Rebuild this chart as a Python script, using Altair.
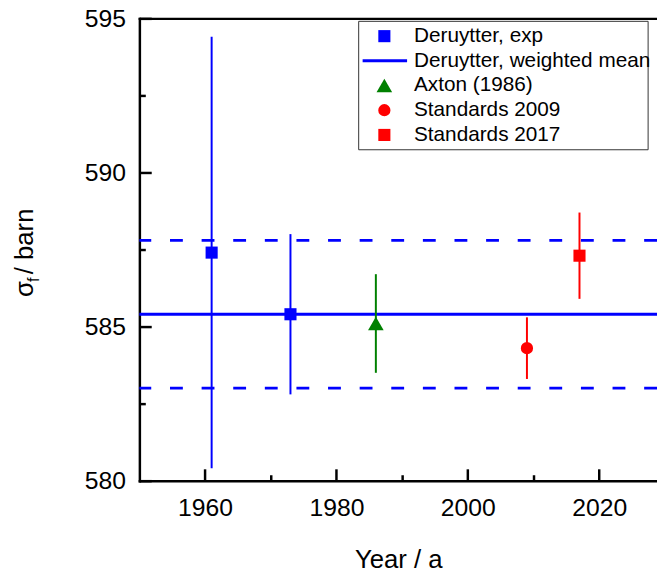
import altair as alt
import pandas as pd

# ---------------- data ----------------
series = ["Deruytter, exp", "Deruytter, exp", "Axton (1986)", "Standards 2009", "Standards 2017"]
years = [1961, 1973, 1986, 2009, 2017]
values = [587.4, 585.4, 585.1, 584.3, 587.3]
errors = [7.0, 2.6, 1.6, 1.0, 1.4]
shapes = ["square", "square", "triangle-up", "circle", "square"]
colors = ["#0000ff", "#0000ff", "#008000", "#ff0000", "#ff0000"]

mean_value = 585.4
mean_error = 2.4

x_major = [1960, 1980, 2000, 2020]
x_minor = [1970, 1990, 2010]
y_major = [580, 585, 590, 595]
y_minor = [582.5, 587.5, 592.5]

legend_labels = ["Deruytter, exp", "Deruytter, weighted mean", "Axton (1986)",
                 "Standards 2009", "Standards 2017"]
legend_shapes = ["square", "line", "triangle-up", "circle", "square"]
legend_colors = ["#0000ff", "#0000ff", "#008000", "#ff0000", "#ff0000"]

# ---------------- styles ----------------
FONT = "Liberation Sans"
W, H = 524, 468
X_MIN, X_MAX = 1950, 2028.8
Y_MIN, Y_MAX = 580, 595
SYM_SIZE = {"square": 150, "triangle-up": 250, "circle": 154}

df = pd.DataFrame({
    "series": series, "year": years, "value": values, "err": errors,
    "shape": shapes, "color": colors,
})
df["low"] = df["value"] - df["err"]
df["high"] = df["value"] + df["err"]
df["size"] = df["shape"].map(SYM_SIZE)

mean_df = pd.DataFrame({"v": [mean_value]})
band_df = pd.DataFrame({"v": [mean_value - mean_error, mean_value + mean_error]})

xs = alt.Scale(domain=[X_MIN, X_MAX], nice=False, zero=False)
ys = alt.Scale(domain=[Y_MIN, Y_MAX], nice=False, zero=False)


def axis_layer(xaxis, yaxis):
    return alt.Chart(df).mark_point(opacity=0).encode(
        x=alt.X("year:Q", scale=xs, axis=xaxis, title=None),
        y=alt.Y("value:Q", scale=ys, axis=yaxis, title=None),
    )


common = dict(grid=False)

lab_axes = axis_layer(
    alt.Axis(orient="bottom", values=x_major, format="d", ticks=False, tickSize=0,
             domain=True, domainWidth=2.5, domainColor="black", domainCap="square",
             labelFont=FONT, labelFontSize=25, labelColor="black", labelPadding=15,
             labelOverlap=False, labelFlush=False, title="Year / a", titleFont=FONT,
             titleFontSize=26, titleFontWeight="normal", titleColor="black",
             titlePadding=27, **common),
    alt.Axis(orient="left", values=y_major, format="d", ticks=False, tickSize=0,
             domain=True, domainWidth=2.5, domainColor="black", domainCap="square",
             labelFont=FONT, labelFontSize=25, labelColor="black", labelPadding=14,
             labelOverlap=False, **common),
)

major_axes = axis_layer(
    alt.Axis(orient="top", offset=-H, values=x_major, ticks=True, tickSize=12,
             tickWidth=2.5, tickColor="black", labels=False, domain=False, **common),
    alt.Axis(orient="right", offset=-W, values=y_major, ticks=True, tickSize=12,
             tickWidth=2.5, tickColor="black", labels=False, domain=False, **common),
)

minor_axes = axis_layer(
    alt.Axis(orient="top", offset=-H, values=x_minor, ticks=True, tickSize=6,
             tickWidth=2.5, tickColor="black", labels=False, domain=False, **common),
    alt.Axis(orient="right", offset=-W, values=y_minor, ticks=True, tickSize=6,
             tickWidth=2.5, tickColor="black", labels=False, domain=False, **common),
)

top_axis = alt.Chart(df).mark_point(opacity=0).encode(
    x=alt.X("year:Q", scale=xs, title=None,
            axis=alt.Axis(orient="top", ticks=False, labels=False, domain=True,
                          domainWidth=2.5, domainColor="black", domainCap="square",
                          **common)),
    y=alt.Y("value:Q", scale=ys, axis=None),
)

band = alt.Chart(band_df).mark_rule(color="#0000ff", strokeWidth=2.8,
                                   strokeDash=[13, 19]).encode(
    y=alt.Y("v:Q", scale=ys, axis=None)
)
mean_line = alt.Chart(mean_df).mark_rule(color="#0000ff", strokeWidth=3).encode(
    y=alt.Y("v:Q", scale=ys, axis=None)
)

err = alt.Chart(df).mark_rule(strokeWidth=2).encode(
    x=alt.X("year:Q", scale=xs, axis=None),
    y=alt.Y("low:Q", scale=ys, axis=None),
    y2="high:Q",
    color=alt.Color("color:N", scale=None),
)

pts = alt.Chart(df).mark_point(filled=True, opacity=1).encode(
    x=alt.X("year:Q", scale=xs, axis=None),
    y=alt.Y("value:Q", scale=ys, axis=None),
    shape=alt.Shape("shape:N", scale=None),
    color=alt.Color("color:N", scale=None),
    size=alt.Size("size:Q", scale=None),
)

# ---------------- y title (with subscript) ----------------
ytitle = [
    alt.Chart(pd.DataFrame({"t": ["σ"]})).mark_text(
        angle=270, align="left", baseline="alphabetic", font=FONT, fontSize=26,
        color="black").encode(text="t:N", x=alt.value(-108), y=alt.value(282)),
    alt.Chart(pd.DataFrame({"t": ["f"]})).mark_text(
        angle=270, align="left", baseline="alphabetic", font=FONT, fontSize=16,
        color="black").encode(text="t:N", x=alt.value(-102), y=alt.value(267)),
    alt.Chart(pd.DataFrame({"t": ["/ barn"]})).mark_text(
        angle=270, align="left", baseline="alphabetic", font=FONT, fontSize=26,
        color="black").encode(text="t:N", x=alt.value(-108), y=alt.value(259)),
]

# ---------------- legend ----------------
LEG_X0, LEG_X1, LEG_Y0, LEG_Y1 = 222, 515, 3, 133
LEG_SYM_X, LEG_TXT_X, LEG_ROW0, LEG_DY = 248, 278, 18, 25

legend_layers = [
    alt.Chart(pd.DataFrame({"a": [0]})).mark_rect(
        fill="white", stroke="#333333", strokeWidth=1).encode(
        x=alt.value(LEG_X0), x2=alt.value(LEG_X1),
        y=alt.value(LEG_Y0), y2=alt.value(LEG_Y1))
]
for i, (lab, shp, col) in enumerate(zip(legend_labels, legend_shapes, legend_colors)):
    yy = LEG_ROW0 + i * LEG_DY
    if shp == "line":
        legend_layers.append(
            alt.Chart(pd.DataFrame({"a": [0]})).mark_rule(color=col, strokeWidth=3).encode(
                x=alt.value(LEG_SYM_X - 22), x2=alt.value(LEG_SYM_X + 23), y=alt.value(yy))
        )
    else:
        legend_layers.append(
            alt.Chart(pd.DataFrame({"a": [0]})).mark_point(
                filled=True, opacity=1, shape=shp, size=SYM_SIZE[shp], color=col).encode(
                x=alt.value(LEG_SYM_X), y=alt.value(yy))
        )
    legend_layers.append(
        alt.Chart(pd.DataFrame({"t": [lab]})).mark_text(
            align="left", baseline="middle", font=FONT, fontSize=21, color="black").encode(
            text="t:N", x=alt.value(LEG_TXT_X), y=alt.value(yy))
    )

chart = alt.layer(
    band, mean_line, err, pts,
    lab_axes, major_axes, minor_axes, top_axis,
    *ytitle, *legend_layers,
).resolve_axis(x="independent", y="independent").properties(
    width=W, height=H,
    autosize=alt.AutoSizeParams(type="none"),
    padding={"left": 133, "top": 7, "right": 0, "bottom": 93},
    background="white",
).configure_view(stroke=None)

chart.save("out.html", embed_options={"renderer": "svg", "actions": False})
